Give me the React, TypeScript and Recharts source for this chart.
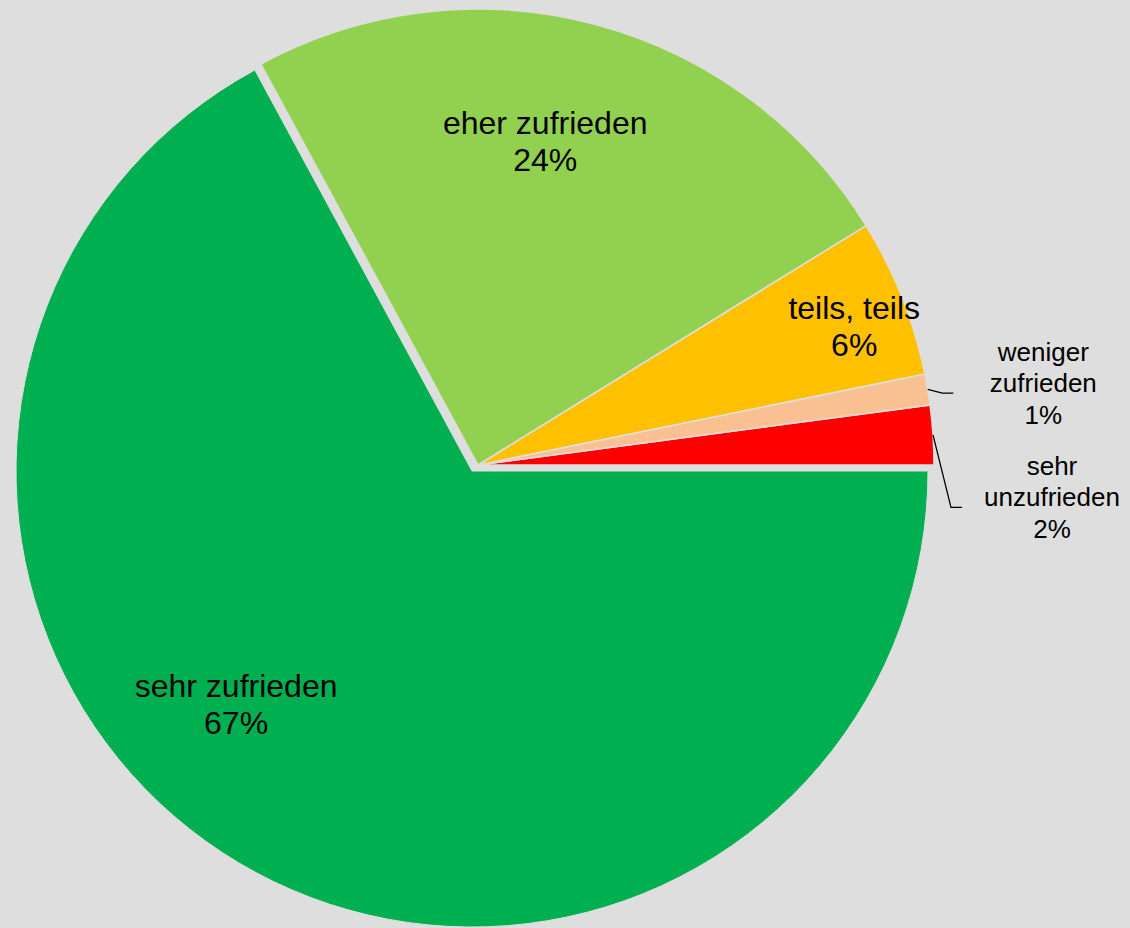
import { PieChart, Pie, Cell } from 'recharts'

// Zufriedenheit – Anteile in %
const categories = ['sehr unzufrieden', 'weniger zufrieden', 'teils, teils', 'eher zufrieden', 'sehr zufrieden']
const shares     = [2.1, 1.1, 5.6, 24.1, 67.1]
const colors     = ['#ff0000', '#f9c192', '#ffc000', '#92d050', '#00b050']

const data = categories.map((name, i) => ({ name, value: shares[i] }))

const BG = '#dedede'
const RADIUS = 456
const BIG = 'sehr zufrieden' // the slice that is drawn on its own centre

// label placement, relative to the slice's mid angle (layout only)
const labelLayout = [
  { r: 1.262, dA: -7.9, outside: true },
  { r: 1.25,  dA: -2.2, outside: true },
  { r: 0.871, dA: -2.9, outside: false },
  { r: 0.701, dA: 2.8,  outside: false },
  { r: 0.745, dA: -13.2, outside: false },
]

const RAD = Math.PI / 180
const polar = (cx: number, cy: number, r: number, a: number) =>
  [cx + r * Math.cos(-a * RAD), cy + r * Math.sin(-a * RAD)]

function makeLabel(showBig: boolean) {
  return (props: any) => {
    const { cx, cy, midAngle, outerRadius, index, percent, name } = props
    if ((name === BIG) !== showBig) return null
    const lay = labelLayout[index]
    const [x, y] = polar(cx, cy, outerRadius * lay.r, midAngle + lay.dA)
    const fs = lay.outside ? 26 : 32
    const lh = lay.outside ? 31.5 : 36.5
    const lines = lay.outside ? name.split(' ') : [name]
    lines.push(`${Math.round(percent * 100)}%`)
    const first = y - ((lines.length - 1) * lh) / 2
    let leader = null
    if (lay.outside) {
      const [sx, sy] = polar(cx, cy, outerRadius, midAngle)
      leader = (
        <polyline
          points={`${sx},${sy} ${x - 101},${y + 1} ${x - 90},${y + 1}`}
          fill="none"
          stroke="#000"
          strokeWidth={1.3}
        />
      )
    }
    return (
      <g key={`lbl-${index}`}>
        {leader}
        <text
          x={x}
          y={first}
          textAnchor="middle"
          fill="#000"
          fontSize={fs}
          fontFamily="'Liberation Sans', Arial, sans-serif"
        >
          {lines.map((t: string, k: number) => (
            <tspan key={k} x={x} y={first + k * lh}>{t}</tspan>
          ))}
        </text>
      </g>
    )
  }
}

export default function App() {
  return (
    <div style={{ position: 'fixed', left: 0, top: 0, width: 1130, height: 928, background: BG }}>
      <PieChart width={1130} height={928} margin={{ top: 0, right: 0, bottom: 0, left: 0 }}>
        {/* big slice, not exploded */}
        <Pie
          data={data}
          dataKey="value"
          nameKey="name"
          cx={472}
          cy={471}
          outerRadius={RADIUS}
          startAngle={0}
          endAngle={360}
          isAnimationActive={false}
          label={makeLabel(true)}
          labelLine={false}
        >
          {data.map((d, i) => (
            <Cell
              key={d.name}
              fill={d.name === BIG ? colors[i] : 'transparent'}
              stroke={d.name === BIG ? BG : 'none'}
              strokeWidth={1}
            />
          ))}
        </Pie>
        {/* the remaining slices, pulled out together */}
        <Pie
          data={data}
          dataKey="value"
          nameKey="name"
          cx={478}
          cy={465}
          outerRadius={RADIUS}
          startAngle={0}
          endAngle={360}
          isAnimationActive={false}
          label={makeLabel(false)}
          labelLine={false}
        >
          {data.map((d, i) => (
            <Cell
              key={d.name}
              fill={d.name === BIG ? 'transparent' : colors[i]}
              stroke={d.name === BIG ? 'none' : BG}
              strokeWidth={1.5}
            />
          ))}
        </Pie>
      </PieChart>
    </div>
  )
}
